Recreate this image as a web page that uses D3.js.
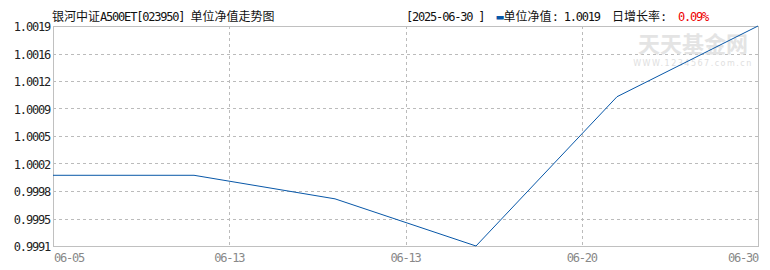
<!DOCTYPE html>
<html>
<head>
<meta charset="utf-8">
<script src="https://cdn.jsdelivr.net/npm/d3@7"></script>
<style>
  body { margin: 0; background: #fff; }
  text { font-family: "SimSun", "DejaVu Sans Mono", "Noto Sans CJK SC", monospace; white-space: pre; }
</style>
</head>
<body>
<div id="chart"></div>
<script>
// point values, one per trading point
var navValues = [1.0000, 1.0000, 0.9997, 0.9991, 1.0010, 1.0019];
var xTickLabels = ['06-05', '06-13', '06-13', '06-20', '06-30'];
var yTickValues = [0.9991, 0.99945, 0.9998, 1.00015, 1.0005, 1.00085, 1.0012, 1.00155, 1.0019];
var titleText = '银河中证A500ET[023950] 单位净值走势图';
var lastDate = '[2025-06-30 ]';
var lastNav = '1.0019';
var lastRate = '0.09%';

var W = 770, H = 270;
var margin = { top: 26, right: 12, bottom: 24, left: 53 },
  width = W - margin.left - margin.right,
  height = H - margin.top - margin.bottom;

var root = d3.select("#chart")
  .append("svg")
  .attr("width", W)
  .attr("height", H);

var svg = root.append("g")
  .attr("transform", "translate(" + margin.left + "," + margin.top + ")");

var x = d3.scaleLinear()
  .domain([0, navValues.length - 1])
  .range([0, width]);

var y = d3.scaleLinear()
  .domain([0.9991, 1.0019])
  .range([height, 0]);

// latin glyphs are narrower in the original font, so squeeze them
function addRuns(sel, str, color) {
  var runs = str.match(/[\u3000-\u9fff\uff00-\uffef]+|[^\u3000-\u9fff\uff00-\uffef]+/g) || [];
  runs.forEach(function (r) {
    var t = sel.append("tspan").text(r);
    if (color) t.attr("fill", color);
    if (!/[\u3000-\u9fff\uff00-\uffef]/.test(r)) t.style("letter-spacing", "-1.2px");
  });
}

// x tick positions spread evenly over the index range
var xTickPos = xTickLabels.map(function (d, i) { return i * (navValues.length - 1) / (xTickLabels.length - 1); });

// horizontal grid
svg.append("g")
  .selectAll("line")
  .data(yTickValues.slice(1, -1))
  .enter()
  .append("line")
  .attr("x1", 0).attr("x2", width)
  .attr("y1", function (d) { return Math.round(y(d)) + 0.5; })
  .attr("y2", function (d) { return Math.round(y(d)) + 0.5; })
  .attr("stroke", "#bbb")
  .attr("stroke-dasharray", "3,3");

// vertical grid
svg.append("g")
  .selectAll("line")
  .data(xTickPos.slice(1, -1))
  .enter()
  .append("line")
  .attr("y1", 0).attr("y2", height)
  .attr("x1", function (d) { return Math.round(x(d)) + 0.5; })
  .attr("x2", function (d) { return Math.round(x(d)) + 0.5; })
  .attr("stroke", "#bbb")
  .attr("stroke-dasharray", "3,3");

// watermark
svg.append("text")
  .attr("x", 640).attr("y", 26)
  .attr("text-anchor", "middle")
  .style("font-family", "'Noto Sans CJK SC', sans-serif")
  .style("font-size", "22px")
  .style("font-weight", "bold")
  .attr("fill", "#e4e4e4")
  .text("天天基金网");
svg.append("text")
  .attr("x", 640).attr("y", 40)
  .attr("text-anchor", "middle")
  .style("font-family", "'DejaVu Sans', sans-serif")
  .style("font-size", "8px")
  .style("letter-spacing", "1.5px")
  .attr("fill", "#e0e0e0")
  .text("WWW.1234567.com.cn");

// frame
svg.append("rect")
  .attr("x", 0.5).attr("y", 0.5)
  .attr("width", width).attr("height", height)
  .attr("fill", "none")
  .attr("stroke", "#c0c0c0");

// y labels
svg.append("g")
  .selectAll("text")
  .data(yTickValues)
  .enter()
  .append("text")
  .attr("x", -3)
  .attr("y", function (d) { return y(d) + 5; })
  .attr("text-anchor", "end")
  .style("font-size", "12px")
  .style("letter-spacing", "-1.2px")
  .attr("fill", "#222")
  .text(function (d) { return d3.format(".4f")(d + 1e-9); });

// x labels
svg.append("g")
  .selectAll("text")
  .data(xTickLabels)
  .enter()
  .append("text")
  .attr("x", function (d, i) { return x(xTickPos[i]) + (i == 0 ? 1 : 0); })
  .attr("y", height + 16)
  .attr("text-anchor", function (d, i) { return i == 0 ? "start" : (i == xTickLabels.length - 1 ? "end" : "middle"); })
  .style("font-size", "12px")
  .style("letter-spacing", "-1.2px")
  .attr("fill", "#888")
  .text(function (d) { return d; });

// nav line
var line = d3.line()
  .x(function (d, i) { return x(i); })
  .y(function (d) { return y(d); });

svg.append("path")
  .datum(navValues)
  .attr("d", line)
  .attr("fill", "none")
  .attr("stroke", "#0757a8")
  .attr("stroke-width", 1);

// header
var title = root.append("text")
  .attr("x", 52).attr("y", 21)
  .style("font-size", "12px")
  .attr("fill", "#111");
addRuns(title, titleText);

var head = root.append("text")
  .attr("x", 406).attr("y", 21)
  .style("font-size", "12px")
  .attr("fill", "#111");
addRuns(head, lastDate + "  ");
head.append("tspan").attr("fill", "#0757a8").text("▬");
addRuns(head, "单位净值: " + lastNav + "  日增长率:  ");
addRuns(head, lastRate, "#e00");
</script>
</body>
</html>
